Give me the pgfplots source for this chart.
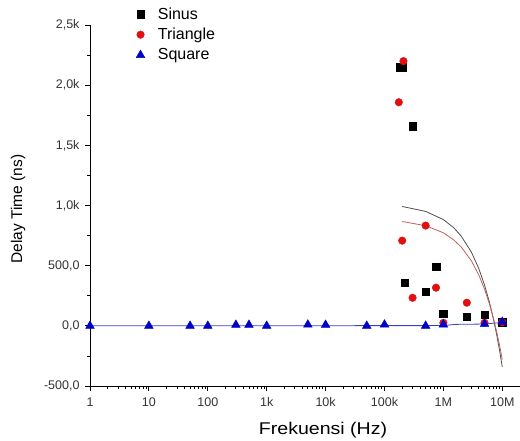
\documentclass[border=0pt]{standalone}
\usepackage{fontspec}
\setmainfont{Liberation Sans}
\usepackage{pgfplots}
\pgfplotsset{compat=1.18}
\definecolor{sinfit}{HTML}{505050}
\definecolor{trifit}{HTML}{C06060}
\definecolor{sqfit}{HTML}{4040C0}
\definecolor{redpt}{HTML}{E01010}
\definecolor{bluept}{HTML}{0000C8}

\begin{document}
\begin{tikzpicture}
\useasboundingbox (-90pt,-55pt) rectangle (430pt,386pt);
\begin{axis}[
    at={(0,0)}, anchor=south west,
    scale only axis,
    width=430pt, height=361pt,
    xmode=log,
    xmin=1, xmax=2e7,
    ymin=-500, ymax=2500,
    axis x line*=bottom,
    axis y line*=left,
    xtick={1,10,100,1000,1e4,1e5,1e6,1e7},
    xticklabels={1,10,100,1k,10k,100k,1M,10M},
    ytick={-500,0,500,1000,1500,2000,2500},
    yticklabels={{-500,0},{0,0},{500,0},{1,0k},{1,5k},{2,0k},{2,5k}},
    minor y tick num=1,
    tick align=outside,
    major tick length=5pt,
    minor tick length=3pt,
    tick style={black, line width=0.8pt},
    axis line style={line width=0.9pt},
    tick label style={font=\fontsize{12.5}{14}\selectfont, text=black!80},
    xticklabel style={yshift=-3pt},
    yticklabel style={xshift=-2pt},
    every axis x label/.style={at={(axis description cs:0.542,-0.122)}, anchor=center,
        font=\fontsize{17}{19}\selectfont, xscale=1.15},
    every axis y label/.style={at={(axis description cs:-0.167,0.49)}, anchor=center,
        rotate=90, font=\fontsize{15.5}{17}\selectfont},
    xlabel={Frekuensi (Hz)},
    ylabel={Delay Time (ns)},
    legend style={draw=none, fill=none, at={(0.1,1.06)}, anchor=north west,
                  font=\fontsize{16}{18}\selectfont, row sep=3.5pt, column sep=11pt},
    legend cell align=left,
]
% fitted curves
\addplot[sinfit, line width=0.8pt, forget plot] coordinates {
    (2e5,992) (5e5,951) (1e6,883) (1.5e6,815) (2e6,747) (3e6,611) (4e6,475)
    (5e6,339) (6e6,203) (7e6,67) (8e6,-69) (9e6,-205) (1e7,-341)
};
\addplot[trifit, line width=0.8pt, forget plot] coordinates {
    (2e5,867) (5e5,832) (1e6,773) (1.5e6,714) (2e6,656) (3e6,539) (4e6,422)
    (5e6,305) (6e6,188) (7e6,71) (8e6,-46) (9e6,-163) (1e7,-280)
};
\addplot[sqfit, line width=0.8pt, forget plot] coordinates {
    (1,0) (1e6,2) (1.6e6,12) (5e6,15) (1e7,28)
};
% data
\addplot[only marks, mark=square*, mark size=3.8pt, black] coordinates {
    (1.8e5,2150) (2e5,2150) (2.2e5,358) (3e5,1658) (5e5,283) (7.5e5,492)
    (1e6,100) (2.5e6,75) (5e6,92) (1e7,30)
};
\addplot[only marks, mark=*, mark size=3.8pt, redpt] coordinates {
    (1.75e5,1858) (2e5,708) (2.1e5,2200) (3e5,233) (5e5,833) (7.5e5,317)
    (1e6,25) (2.5e6,192) (5e6,25) (1e7,30)
};
\addplot[only marks, mark=triangle*, mark size=5pt, bluept] coordinates {
    (1,0) (10,0) (50,0) (100,0) (300,8) (500,8) (1e3,0) (5e3,10) (1e4,8)
    (5e4,0) (1e5,10) (5e5,0) (1e6,10) (5e6,15) (1e7,33)
};
\legend{Sinus, Triangle, Square}
\end{axis}
\end{tikzpicture}
\end{document}
